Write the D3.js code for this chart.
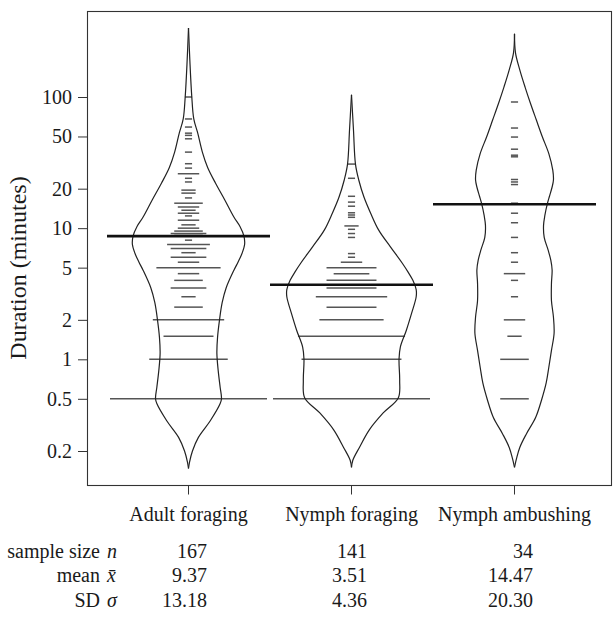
<!DOCTYPE html>
<html>
<head>
<meta charset="utf-8">
<script src="https://cdn.jsdelivr.net/npm/d3@7"></script>
<style>
    body { margin: 0; background: #fff; }
    text { font-family: "Liberation Serif", "Times New Roman", serif; fill: #1a1a1a; }
</style>
</head>
<body>
<div id="chart"></div>
<script>

// categories and axis ticks
const groups = ["Adult foraging", "Nymph foraging", "Nymph ambushing"];
const yTicks = [0.2, 0.5, 1, 2, 5, 10, 20, 50, 100];

// observed durations (minutes) and number of ties at each value
const adultValues = [100, 68, 59, 53, 51, 48, 38, 31, 28.7, 26, 24, 22.5, 19.5, 18.5, 17, 15.5, 14.5, 13.7, 13, 12.4,
    11.5, 10.6, 10, 9.5, 9.1, 8.8, 8.1, 7.5, 7, 6.5, 6, 5.5, 5, 4.5, 4, 3.5, 3, 2.5, 2, 1.5, 1, 0.5];
const adultCounts = [1, 1, 1, 1, 1, 1, 1, 1, 1, 3, 1, 1, 2, 2, 1, 4, 3, 2, 3, 1,
    3, 2, 3, 4, 5, 4, 1, 6, 5, 2, 5, 3, 9, 3, 4, 5, 2, 4, 10, 7, 11, 22];

const nymphForValues = [30.8, 24, 17.5, 15.8, 14.7, 13.1, 12.6, 12.1, 10.4, 9.8, 9.1, 8.5, 6.4, 6, 5.5, 5, 4.5, 4,
    3.5, 3, 2.5, 2, 1.5, 1, 0.5];
const nymphForCounts = [1, 1, 1, 1, 1, 1, 1, 1, 2, 1, 1, 1, 1, 1, 3, 7, 5, 7,
    7, 10, 7, 9, 15, 14, 22];

const nymphAmbValues = [91.6, 58, 49.5, 40, 36, 35, 23.5, 22.5, 21.5, 15.5, 13, 11, 8.5, 6.5, 5.5, 4.5, 4, 3, 2, 1.5, 1, 0.5];
const nymphAmbCounts = [1, 1, 1, 1, 1, 1, 1, 1, 1, 1, 1, 1, 1, 1, 1, 3, 1, 1, 3, 2, 4, 4];

// bean outlines: duration and relative density
const adultBeanAt = [336, 192, 100, 68, 53, 38, 29, 22, 16.4, 12.1, 10.3, 8.7, 7.5, 6.4, 5.5, 4.8, 3.5, 2.7, 2.0, 1.47, 1.11,
    0.82, 0.61, 0.5, 0.46, 0.34, 0.254, 0.2, 0.164, 0.147];
const adultBeanDens = [0, 0.02, 0.05, 0.08, 0.14, 0.21, 0.29, 0.41, 0.55, 0.69, 0.78, 0.84, 0.85, 0.81, 0.75, 0.69, 0.57, 0.51, 0.47, 0.44, 0.43,
    0.45, 0.48, 0.5, 0.48, 0.33, 0.15, 0.06, 0.015, 0];

const nymphForBeanAt = [104, 56, 30.8, 23.3, 17.2, 13, 9.7, 7.2, 5.4, 4.6, 4.0, 3.4, 3.0, 2.24, 1.66, 1.24, 1.0,
    0.69, 0.51, 0.39, 0.29, 0.213, 0.17, 0.15];
const nymphForBeanDens = [0, 0.03, 0.06, 0.11, 0.19, 0.29, 0.41, 0.59, 0.77, 0.86, 0.93, 0.98, 0.98, 0.91, 0.83, 0.74, 0.72,
    0.73, 0.71, 0.48, 0.27, 0.12, 0.02, 0];

const nymphAmbBeanAt = [303, 217, 161, 119, 90, 67, 50, 37, 27.7, 23.3, 20.6, 17.5, 15.5, 12.5, 10.5, 8.5, 6.8, 5.7, 4.8, 3.8,
    2.8, 2.1, 1.58, 1.17, 0.87, 0.66, 0.49, 0.36, 0.27, 0.213, 0.175, 0.15];
const nymphAmbBeanDens = [0, 0.015, 0.08, 0.16, 0.24, 0.33, 0.42, 0.52, 0.58, 0.59, 0.57, 0.53, 0.5, 0.46, 0.44, 0.45, 0.51, 0.55, 0.57, 0.56,
    0.56, 0.59, 0.6, 0.56, 0.52, 0.48, 0.41, 0.32, 0.18, 0.08, 0.03, 0];

// bean average lines
const beanAvg = [8.7, 3.7, 15.2];

// summary table under the chart
const rowLabels = ["sample size", "mean", "SD"];
const rowSymbols = ["n", "x\u0304", "\u03C3"];
const sampleSize = [167, 141, 34];
const meanValues = [9.37, 3.51, 14.47];
const sdValues = [13.18, 4.36, 20.30];


const width = 614, height = 618;
const box = {left: 87, right: 612, top: 11, bottom: 485};

const svg = d3.select("#chart")
    .append("svg")
    .attr("width", width)
    .attr("height", height);

svg.append("rect")
    .attr("width", width)
    .attr("height", height)
    .attr("fill", "#fff");

const x = d3.scaleBand()
    .domain(groups)
    .range([107, 596]);

const y = d3.scaleLog()
    .domain([0.2, 100])
    .range([451, 97]);

const dens = d3.scaleLinear().domain([0, 1]).range([0, 66]);
const lineLen = d3.scaleLinear().domain([0, 22]).range([0, 157]);

const beans = [
    {values: adultValues, counts: adultCounts, at: adultBeanAt, dens: adultBeanDens},
    {values: nymphForValues, counts: nymphForCounts, at: nymphForBeanAt, dens: nymphForBeanDens},
    {values: nymphAmbValues, counts: nymphAmbCounts, at: nymphAmbBeanAt, dens: nymphAmbBeanDens}
];

beans.forEach(function(b, i) {
    let g = groups[i];
    let cx = x(g) + x.bandwidth() / 2;
    let layer = svg.append("g").attr("class", "bean");

    // bean lines, longer where values tie
    layer.selectAll("line.beanline")
        .data(b.values.map((v, j) => ({v: v, n: b.counts[j]})))
        .enter()
        .append("line")
        .attr("class", "beanline")
        .attr("x1", d => cx - lineLen(d.n) / 2)
        .attr("x2", d => cx + lineLen(d.n) / 2)
        .attr("y1", d => y(d.v))
        .attr("y2", d => y(d.v))
        .attr("stroke", "#555")
        .attr("stroke-width", 1.5);

    // bean outline, one side at a time so the tips stay sharp
    let side = s => d3.line()
        .y(d => y(d.v))
        .x(d => cx + s * dens(d.d))
        .curve(d3.curveCatmullRom.alpha(0.5));

    let pts = b.at.map((v, j) => ({v: v, d: b.dens[j]}));
    [-1, 1].forEach(function(s) {
        layer.append("path")
            .datum(pts)
            .attr("d", side(s))
            .attr("fill", "none")
            .attr("stroke", "#222")
            .attr("stroke-width", 1.2);
    });

    // average line
    layer.append("line")
        .attr("x1", x(g))
        .attr("x2", x(g) + x.bandwidth())
        .attr("y1", y(beanAvg[i]))
        .attr("y2", y(beanAvg[i]))
        .attr("stroke", "#111")
        .attr("stroke-width", 2.6);
});

// frame
svg.append("rect")
    .attr("x", box.left + 0.5)
    .attr("y", box.top + 0.5)
    .attr("width", box.right - box.left - 1)
    .attr("height", box.bottom - box.top)
    .attr("fill", "none")
    .attr("stroke", "#333")
    .attr("stroke-width", 1.1);

// y axis
const yAxis = svg.append("g")
    .attr("transform", `translate(${box.left},0)`)
    .call(d3.axisLeft(y).tickValues(yTicks).tickFormat(d => d).tickSize(9).tickPadding(6));
yAxis.select(".domain").remove();
yAxis.selectAll(".tick line").attr("stroke", "#333");
yAxis.selectAll(".tick text")
    .attr("font-size", 20)
    .style("font-family", "'Liberation Serif', serif");

svg.append("text")
    .attr("transform", "translate(26,268) rotate(-90)")
    .attr("text-anchor", "middle")
    .attr("font-size", 24)
    .text("Duration (minutes)");

// x axis
const xAxis = svg.append("g")
    .attr("transform", `translate(0,${box.bottom + 0.5})`)
    .call(d3.axisBottom(x).tickSize(9).tickPadding(12));
xAxis.select(".domain").remove();
xAxis.selectAll(".tick line").attr("stroke", "#333");
xAxis.selectAll(".tick text")
    .attr("font-size", 20)
    .style("font-family", "'Liberation Serif', serif");

// summary table
const rowY = [558, 582, 607];
const colRight = [207, 367, 533];
const rowData = [sampleSize.map(String), meanValues.map(d3.format(".2f")), sdValues.map(d3.format(".2f"))];

rowLabels.forEach(function(label, r) {
    svg.append("text")
        .attr("x", 100)
        .attr("y", rowY[r])
        .attr("text-anchor", "end")
        .attr("font-size", 20)
        .text(label);
    svg.append("text")
        .attr("x", 107)
        .attr("y", rowY[r])
        .attr("font-size", 20)
        .attr("font-style", "italic")
        .text(rowSymbols[r]);
    rowData[r].forEach(function(v, c) {
        svg.append("text")
            .attr("x", colRight[c])
            .attr("y", rowY[r])
            .attr("text-anchor", "end")
            .attr("font-size", 20)
            .text(v);
    });
});

</script>
</body>
</html>
